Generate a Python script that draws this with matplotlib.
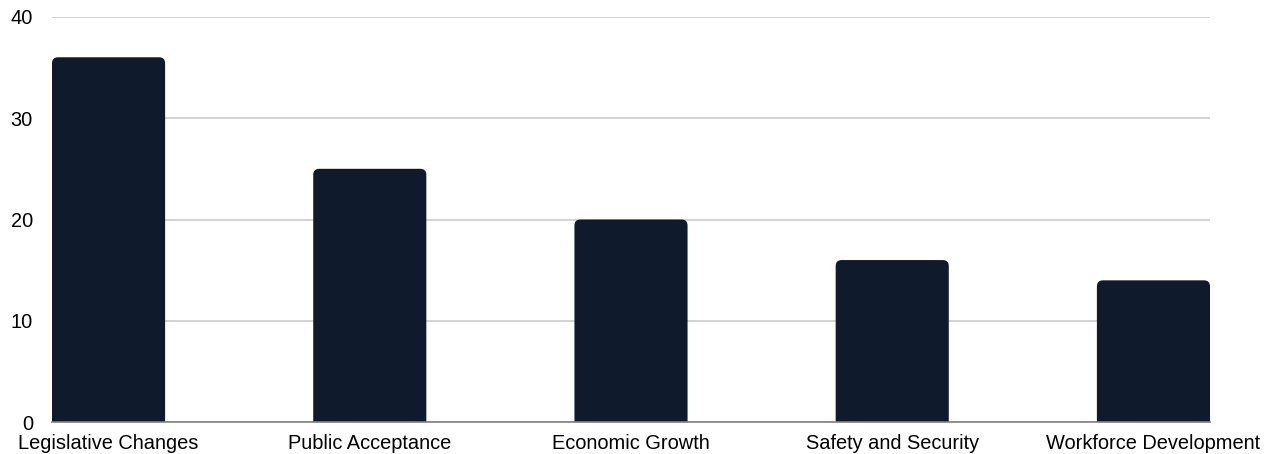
import matplotlib
matplotlib.use("Agg")
import matplotlib.pyplot as plt
from matplotlib.path import Path
from matplotlib.patches import PathPatch

categories = ["Legislative Changes", "Public Acceptance", "Economic Growth",
              "Safety and Security", "Workforce Development"]
values = [36, 25, 20, 16, 14]
y_ticks = [0, 10, 20, 30, 40]

BAR_COLOR = "#0F1A2C"
BAR_WIDTH = 0.433
RADIUS_PX = 6

plt.rcParams["font.family"] = ["Liberation Sans", "DejaVu Sans"]

W, H, DPI = 1265, 454, 100
fig = plt.figure(figsize=(W / DPI, H / DPI), dpi=DPI)
left, right = 52 / W, 1210 / W
bottom, top = (H - 422.3) / H, (H - 16.7) / H
ax = fig.add_axes([left, bottom, right - left, top - bottom])

x = list(range(len(categories)))
ax.set_xlim(-BAR_WIDTH / 2, len(categories) - 1 + BAR_WIDTH / 2)
ax.set_ylim(0, 40)

# pixel -> data scale for rounding the bar tops
ax_w_px = (right - left) * W
ax_h_px = (top - bottom) * H
xr = RADIUS_PX * (ax.get_xlim()[1] - ax.get_xlim()[0]) / ax_w_px
yr = RADIUS_PX * 40 / ax_h_px

for xi, v in zip(x, values):
    x0, x1 = xi - BAR_WIDTH / 2, xi + BAR_WIDTH / 2
    verts = [
        (x0, 0), (x0, v - yr), (x0, v), (x0 + xr, v),
        (x1 - xr, v), (x1, v), (x1, v - yr), (x1, 0), (x0, 0),
    ]
    codes = [
        Path.MOVETO, Path.LINETO, Path.CURVE3, Path.CURVE3,
        Path.LINETO, Path.CURVE3, Path.CURVE3, Path.LINETO, Path.CLOSEPOLY,
    ]
    ax.add_patch(PathPatch(Path(verts, codes), facecolor=BAR_COLOR,
                           edgecolor="none", zorder=3))

ax.set_yticks(y_ticks)
ax.set_xticks(x)
ax.set_xticklabels(categories)
ax.tick_params(axis="both", length=0, labelsize=14.4, colors="#000000")
ax.tick_params(axis="y", pad=13.7)
ax.tick_params(axis="x", pad=8.5)

ax.grid(axis="y", color="#C8C8C8", linewidth=1.1, zorder=0)
for s in ["top", "right", "left"]:
    ax.spines[s].set_visible(False)
ax.spines["bottom"].set_color("#808080")
ax.spines["bottom"].set_linewidth(1.2)
ax.spines["bottom"].set_zorder(4)

fig.savefig("out.png", dpi=DPI)
